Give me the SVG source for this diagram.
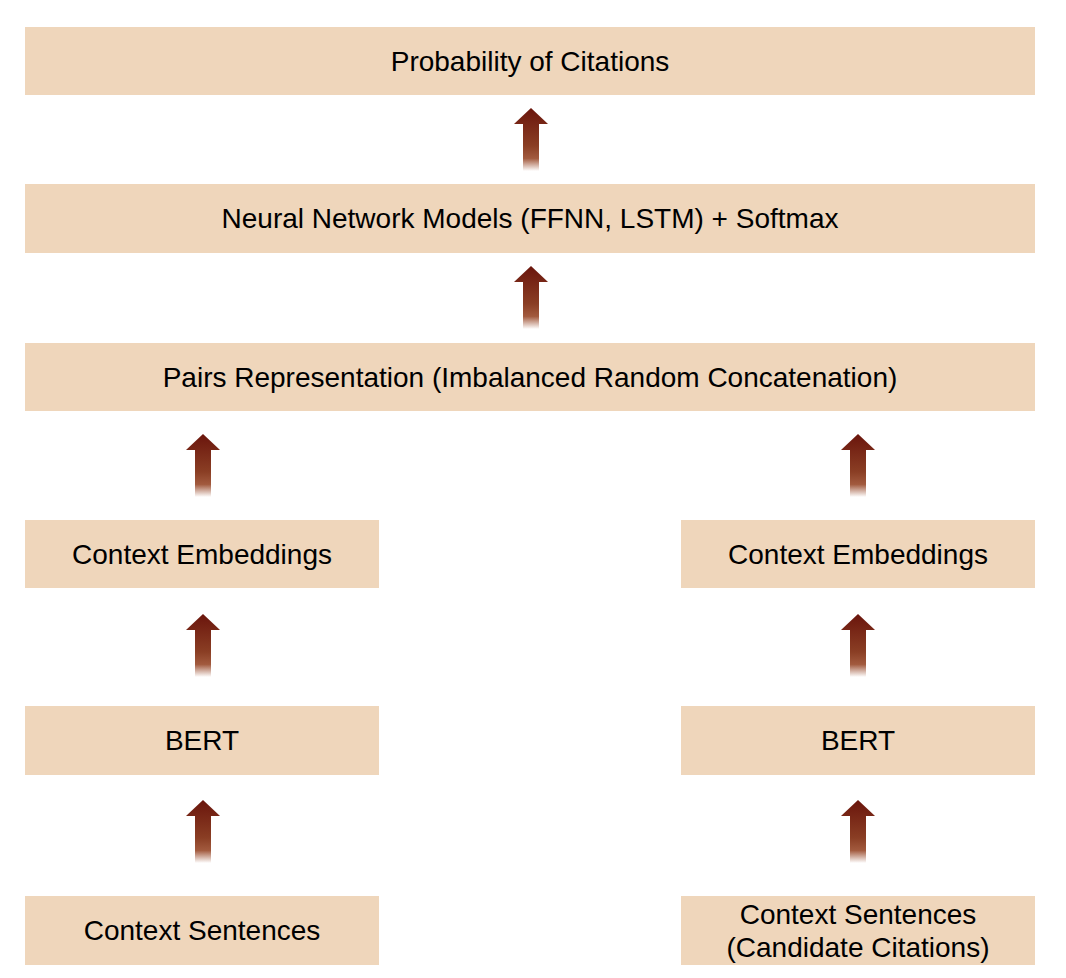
<svg xmlns="http://www.w3.org/2000/svg" width="1066" height="978" viewBox="0 0 1066 978">
<style>
.box{fill:#efd6bb}
.t{font-family:"Liberation Sans",Arial,sans-serif;font-size:28px;fill:#000;text-anchor:middle}
</style>
<defs>
<linearGradient id="ag" x1="0" y1="0" x2="0" y2="1">
<stop offset="0" stop-color="#6a150c"/>
<stop offset="0.6" stop-color="#8a3e24"/>
<stop offset="0.8" stop-color="#a25a3e"/>
<stop offset="1" stop-color="#a25a3e" stop-opacity="0"/>
</linearGradient>
<path id="arr" d="M0,0 L17,16 L8,16 L8,63 L-8,63 L-8,16 L-17,16 Z" fill="url(#ag)"/>
</defs>
<rect width="1066" height="978" fill="#fff"/>
<g id="connectors">
<use href="#arr" x="531" y="108"/>
<use href="#arr" x="531" y="266"/>
<use href="#arr" x="203" y="434"/>
<use href="#arr" x="858" y="434"/>
<use href="#arr" x="203" y="614"/>
<use href="#arr" x="858" y="614"/>
<use href="#arr" x="203" y="800"/>
<use href="#arr" x="858" y="800"/>
</g>
<g id="n-prob"><rect class="box" x="25" y="27" width="1010" height="68"/><text class="t" x="530" y="71">Probability of Citations</text></g>
<g id="n-nn"><rect class="box" x="25" y="184" width="1010" height="69"/><text class="t" x="530" y="228">Neural Network Models (FFNN, LSTM) + Softmax</text></g>
<g id="n-pairs"><rect class="box" x="25" y="343" width="1010" height="68"/><text class="t" x="530" y="387">Pairs Representation (Imbalanced Random Concatenation)</text></g>
<g id="n-emb-l"><rect class="box" x="25" y="520" width="354" height="68"/><text class="t" x="202" y="564">Context Embeddings</text></g>
<g id="n-emb-r"><rect class="box" x="681" y="520" width="354" height="68"/><text class="t" x="858" y="564">Context Embeddings</text></g>
<g id="n-bert-l"><rect class="box" x="25" y="706" width="354" height="69"/><text class="t" x="202" y="750">BERT</text></g>
<g id="n-bert-r"><rect class="box" x="681" y="706" width="354" height="69"/><text class="t" x="858" y="750">BERT</text></g>
<g id="n-cs-l"><rect class="box" x="25" y="896" width="354" height="69"/><text class="t" x="202" y="940">Context Sentences</text></g>
<g id="n-cs-r"><rect class="box" x="681" y="896" width="354" height="69"/><text class="t" x="858" y="924">Context Sentences</text><text class="t" x="858" y="957">(Candidate Citations)</text></g>
</svg>
